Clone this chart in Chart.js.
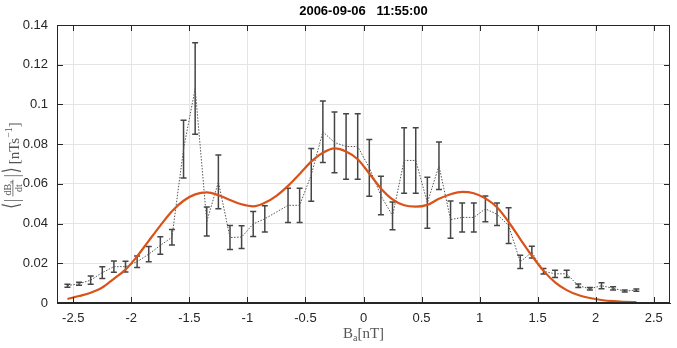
<!DOCTYPE html>
<html>
<head>
<meta charset="utf-8">
<script src="https://cdn.jsdelivr.net/npm/chart.js@4/dist/chart.umd.min.js"></script>
<style>
  html, body { margin: 0; padding: 0; background: #fff; }
  #wrap { width: 677px; height: 348px; }
</style>
</head>
<body>
<div id="wrap"><canvas id="rateChart" width="677" height="348"></canvas></div>
<script>
// measured bin centres, means and error half-widths (no bin at -0.75)
const binX = [-2.55, -2.45, -2.35, -2.25, -2.15, -2.05, -1.95, -1.85, -1.75, -1.65,
              -1.55, -1.45, -1.35, -1.25, -1.15, -1.05, -0.95, -0.85, -0.65, -0.55,
              -0.45, -0.35, -0.25, -0.15, -0.05, 0.05, 0.15, 0.25, 0.35, 0.45,
              0.55, 0.65, 0.75, 0.85, 0.95, 1.05, 1.15, 1.25, 1.35, 1.45,
              1.55, 1.65, 1.75, 1.85, 1.95, 2.05, 2.15, 2.25, 2.35];
const meanRate = [0.0087, 0.0097, 0.0115, 0.0153, 0.0183, 0.0183, 0.0208, 0.0246, 0.029, 0.0331,
                  0.0775, 0.108, 0.041, 0.061, 0.033, 0.0332, 0.0398, 0.0424, 0.0492, 0.0492,
                  0.0645, 0.0862, 0.0809, 0.0788, 0.0788, 0.0681, 0.0541, 0.0439, 0.0718, 0.0718,
                  0.0505, 0.0691, 0.042, 0.0431, 0.0431, 0.0474, 0.0447, 0.039, 0.0207, 0.0256,
                  0.016, 0.0147, 0.0147, 0.0087, 0.0072, 0.0087, 0.0074, 0.006, 0.0065];
const errRate = [0.0008, 0.0008, 0.0021, 0.0029, 0.0028, 0.0027, 0.0029, 0.0038, 0.0044, 0.0039,
                 0.0145, 0.023, 0.0073, 0.0135, 0.006, 0.0057, 0.0063, 0.0066, 0.0086, 0.0086,
                 0.0133, 0.0155, 0.0153, 0.0165, 0.0165, 0.0143, 0.0097, 0.007, 0.0165, 0.0165,
                 0.0128, 0.012, 0.0094, 0.0073, 0.0073, 0.0065, 0.0057, 0.009, 0.0033, 0.003,
                 0.0014, 0.0018, 0.0018, 0.0009, 0.0006, 0.0015, 0.0008, 0.0005, 0.0006];

// fitted curve
const fitX = [-2.55, -2.45, -2.35, -2.25, -2.15, -2.05, -1.95, -1.85, -1.75, -1.65,
              -1.55, -1.45, -1.35, -1.25, -1.15, -1.05, -0.95, -0.85, -0.75, -0.65,
              -0.55, -0.45, -0.35, -0.25, -0.15, -0.05, 0.05, 0.15, 0.25, 0.35,
              0.45, 0.55, 0.65, 0.75, 0.85, 0.95, 1.05, 1.15, 1.25, 1.35,
              1.45, 1.55, 1.65, 1.75, 1.85, 1.95, 2.05, 2.15, 2.25, 2.35];
const fitRate = [0.002, 0.0035, 0.0052, 0.0078, 0.0122, 0.0168, 0.0235, 0.0313, 0.039, 0.0462,
                 0.0515, 0.0547, 0.0557, 0.0543, 0.0519, 0.0497, 0.0487, 0.0505, 0.054, 0.059,
                 0.065, 0.0712, 0.0757, 0.0779, 0.0763, 0.0724, 0.0652, 0.0577, 0.0522, 0.0492,
                 0.0485, 0.0494, 0.0525, 0.0548, 0.056, 0.0553, 0.0527, 0.0482, 0.0408, 0.0322,
                 0.0238, 0.0163, 0.0104, 0.0065, 0.004, 0.0025, 0.0015, 0.0009, 0.0006, 0.0004];

const xTicks = [-2.5, -2, -1.5, -1, -0.5, 0, 0.5, 1, 1.5, 2, 2.5];
const yTicks = [0, 0.02, 0.04, 0.06, 0.08, 0.1, 0.12, 0.14];

const titleText = '2006-09-06   11:55:00';
const axisColor = '#262626';
const labelColor = '#555555';
const serif = '"Liberation Serif", "DejaVu Serif", serif';

const errorBars = {
    id: 'errorBars',
    beforeDatasetsDraw(chart) {
        const ctx = chart.ctx;
        const xs = chart.scales.x, ys = chart.scales.y;
        ctx.save();
        ctx.strokeStyle = '#454545';
        ctx.lineWidth = 1.5;
        binX.forEach((x, i) => {
            const px = xs.getPixelForValue(x);
            const top = ys.getPixelForValue(meanRate[i] + errRate[i]);
            const bot = ys.getPixelForValue(meanRate[i] - errRate[i]);
            ctx.beginPath();
            ctx.moveTo(px, top); ctx.lineTo(px, bot);
            ctx.moveTo(px - 3, top); ctx.lineTo(px + 3, top);
            ctx.moveTo(px - 3, bot); ctx.lineTo(px + 3, bot);
            ctx.stroke();
        });
        ctx.restore();
    }
};

function tall(ctx, txt, x, base, font, sy) {
    ctx.save();
    ctx.font = font;
    ctx.translate(x, base + 3);
    ctx.scale(1, sy);
    ctx.fillText(txt, 0, -3);
    ctx.restore();
}

const frameAndLabels = {
    id: 'frameAndLabels',
    afterDraw(chart) {
        const ctx = chart.ctx;
        const a = chart.chartArea;
        const xs = chart.scales.x, ys = chart.scales.y;
        ctx.save();
        // box with inward ticks
        ctx.strokeStyle = axisColor;
        ctx.lineWidth = 1;
        ctx.strokeRect(a.left + 0.5, a.top + 0.5, a.right - a.left - 1, a.bottom - a.top - 1);
        ctx.beginPath();
        xTicks.forEach(v => {
            const px = Math.round(xs.getPixelForValue(v)) + 0.5;
            ctx.moveTo(px, a.bottom); ctx.lineTo(px, a.bottom - 6);
            ctx.moveTo(px, a.top); ctx.lineTo(px, a.top + 6);
        });
        yTicks.forEach(v => {
            const py = Math.round(ys.getPixelForValue(v)) + 0.5;
            ctx.moveTo(a.left, py); ctx.lineTo(a.left + 6, py);
            ctx.moveTo(a.right, py); ctx.lineTo(a.right - 6, py);
        });
        ctx.stroke();

        // title
        ctx.fillStyle = '#000';
        ctx.font = 'bold 13px "Liberation Sans", Arial, sans-serif';
        ctx.textAlign = 'center';
        ctx.textBaseline = 'middle';
        ctx.fillText(titleText, (a.left + a.right) / 2, 11);

        // x label: B_a[nT]
        ctx.fillStyle = labelColor;
        ctx.textAlign = 'left';
        ctx.textBaseline = 'alphabetic';
        const big = '15px ' + serif;
        const small = '10px ' + serif;
        ctx.font = big;
        const wB = ctx.measureText('B').width;
        const wR = ctx.measureText('[nT]').width;
        ctx.font = small;
        const wa = ctx.measureText('a').width;
        let x0 = (a.left + a.right) / 2 - (wB + wa + wR) / 2;
        const yb = 338;
        ctx.font = big; ctx.fillText('B', x0, yb); x0 += wB;
        ctx.font = small; ctx.fillText('a', x0, yb + 3); x0 += wa;
        ctx.font = big; ctx.fillText('[nT]', x0, yb);

        // y label: <|dB_a/dt|>[nTs^-1], rotated
        ctx.translate(12, (a.top + a.bottom) / 2);
        ctx.rotate(-Math.PI / 2);
        const main = '15px ' + serif;
        const frac = '10px ' + serif;
        const tiny = '7px ' + serif;
        const gap = 3;
        ctx.font = main;
        const wAng = ctx.measureText('\u27E8').width;
        const wBar = ctx.measureText('|').width;
        const wU = ctx.measureText('[nTs').width;
        const wEnd = ctx.measureText(']').width;
        ctx.font = frac;
        const wNum = ctx.measureText('dB').width;
        const wDen = ctx.measureText('dt').width;
        ctx.font = tiny;
        const wSub = ctx.measureText('a').width;
        ctx.font = '10px ' + serif;
        const wSup = ctx.measureText('\u22121').width;
        const wFrac = Math.max(wNum + wSub, wDen) + 3;
        const total = wAng + wBar + wFrac + wBar + wAng + wU + wSup + wEnd + gap * 4;
        let x = -total / 2;
        const base = 7;
        tall(ctx, '\u27E8', x, base, main, 1.45); x += wAng + 1;
        tall(ctx, '|', x, base, main, 1.35); x += wBar + gap - 1;
        const fc = x + wFrac / 2;
        ctx.font = frac;
        ctx.fillText('dB', fc - (wNum + wSub) / 2, base - 8);
        ctx.font = tiny;
        ctx.fillText('a', fc - (wNum + wSub) / 2 + wNum, base - 6);
        ctx.font = frac;
        ctx.fillText('dt', fc - wDen / 2, base + 3);
        ctx.fillRect(x + 0.5, base - 6.5, wFrac - 1, 0.8);
        x += wFrac + gap - 1;
        tall(ctx, '|', x, base, main, 1.35); x += wBar + 1;
        tall(ctx, '\u27E9', x, base, main, 1.45); x += wAng + gap;
        ctx.font = main; ctx.fillText('[nTs', x, base); x += wU;
        ctx.font = '10px ' + serif; ctx.fillText('\u22121', x, base - 7); x += wSup;
        ctx.font = main; ctx.fillText(']', x, base);
        ctx.restore();
    }
};

new Chart(document.getElementById('rateChart'), {
    type: 'line',
    data: {
        datasets: [{
            label: 'fit',
            data: fitX.map((x, i) => ({ x: x, y: fitRate[i] })),
            borderColor: '#D95319',
            borderWidth: 2.2,
            pointRadius: 0,
            cubicInterpolationMode: 'monotone',
            fill: false
        }, {
            label: 'mean',
            data: binX.map((x, i) => ({ x: x, y: meanRate[i] })),
            borderColor: '#555555',
            borderWidth: 1,
            borderDash: [1.5, 1.5],
            pointRadius: 0,
            tension: 0,
            fill: false
        }]
    },
    options: {
        responsive: false,
        animation: false,
        layout: { padding: { top: 25, right: 7, left: 0, bottom: 0 } },
        plugins: {
            legend: { display: false },
            tooltip: { enabled: false }
        },
        scales: {
            x: {
                type: 'linear',
                min: -2.64,
                max: 2.64,
                afterBuildTicks: s => { s.ticks = xTicks.map(v => ({ value: v })); },
                afterFit: s => { s.height = 45; },
                grid: { color: '#e4e4e4', drawTicks: false },
                border: { color: axisColor },
                ticks: {
                    color: axisColor,
                    font: { family: '"Liberation Sans", Arial, sans-serif', size: 13 },
                    padding: 8,
                    maxRotation: 0,
                    autoSkip: false,
                    callback: v => String(v)
                }
            },
            y: {
                min: 0,
                max: 0.14,
                afterBuildTicks: s => { s.ticks = yTicks.map(v => ({ value: v })); },
                afterFit: s => { s.width = 57; },
                grid: { color: '#e4e4e4', drawTicks: false },
                border: { color: axisColor },
                ticks: {
                    color: axisColor,
                    font: { family: '"Liberation Sans", Arial, sans-serif', size: 13 },
                    padding: 9,
                    autoSkip: false,
                    callback: v => String(+v.toFixed(2))
                }
            }
        }
    },
    plugins: [errorBars, frameAndLabels]
});
</script>
</body>
</html>
